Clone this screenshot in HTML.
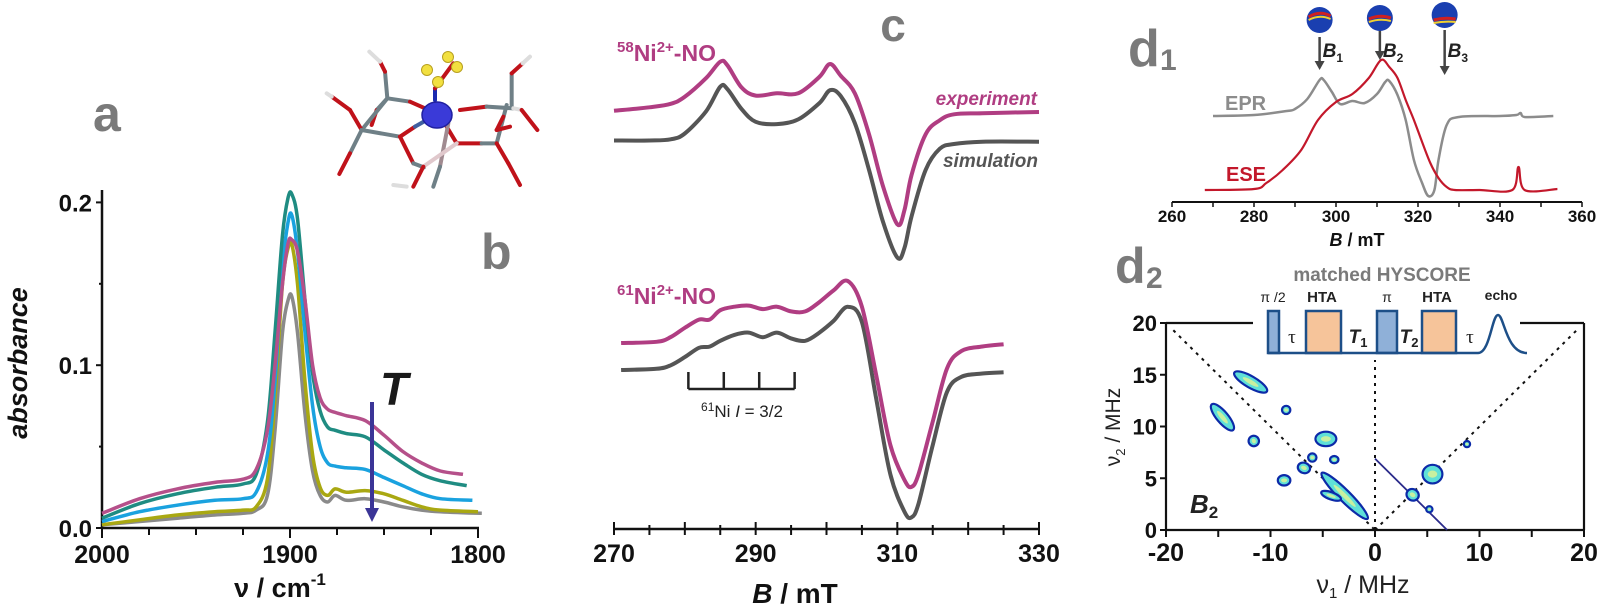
<!DOCTYPE html>
<html><head><meta charset="utf-8"><style>
html,body{margin:0;padding:0;background:#fff;}
svg{display:block;font-family:"Liberation Sans",sans-serif;}
.tk{font-weight:bold;fill:#111;}
</style></head><body>
<svg id="fig" width="1601" height="612" viewBox="0 0 1601 612">
 <g id="gA"></g>
 <g id="gMol"></g>
 <g id="gC"></g>
 <g id="gD1"></g>
 <g id="gD2"></g>
</svg>
<script>
// ---------- Panel a data ----------
const irWavenumbers=[2000,1980,1960,1940,1925,1918,1912,1908,1904,1901,1899,1896,1892,1888,1884,1880,1876,1870,1860,1850,1840,1830,1820,1808];
const irPink =[.009,.018,.024,.028,.030,.036,.06,.10,.15,.175,.177,.17,.14,.10,.08,.073,.071,.069,.066,.057,.047,.040,.035,.033];
const irTeal =[.006,.015,.021,.025,.027,.033,.065,.12,.18,.203,.205,.19,.14,.095,.072,.062,.060,.058,.056,.048,.040,.033,.029,.026];
const irBlue =[.004,.010,.014,.017,.018,.022,.045,.09,.16,.188,.192,.17,.12,.075,.050,.040,.038,.037,.036,.031,.026,.021,.018,.017];
const irOlive=[.002,.005,.008,.010,.011,.013,.03,.08,.15,.172,.174,.15,.09,.045,.025,.020,.024,.022,.023,.021,.017,.013,.011,.010];
const irGray =[.002,.004,.006,.008,.009,.011,.02,.06,.12,.140,.142,.12,.07,.035,.020,.016,.020,.017,.018,.016,.013,.011,.010,.009];
const irXTicks=[2000,1900,1800];
const irYTicks=[0,0.1,0.2];
// ---------- Panel c data ----------
const cTopB=[270,275,278,280,283,285,286,288,290,293,296,299,300.5,302,304,306,308,310,311,312,314,316,318,322,330];
const cTopExp=[1,4,7,13,29,43,40,21,14,16,16,30,41,31,16,-19,-64,-96,-84,-54,-19,-7,-2,-1,0];
const cTopSim=[0,0,1,6,25,46,44,27,16,14,18,32,43,38,15,-25,-70,-100,-92,-65,-25,-7,-3,-1,-1];
const cBotB=[271,276,278,280,282,283.5,285,287,289,291,293,295,297,299,301,303,305,307,309,311,312,313,315,317,319,322,325];
const cBotExp=[0,1,5,13,20,20,28,31,32,29,31,27,27,35,45,53,31,-27,-87,-117,-123,-112,-67,-22,-7,-3,-1];
const cBotSim=[0,1,4,11,19,20,25,30,32,28,32,27,25,32,42,54,41,-24,-89,-121,-126,-114,-64,-19,-6,-3,-2];
const cXTicks=[270,290,310,330];
const cHyperfine=[280.5,285.5,290.5,295.5];
// ---------- Panel d1 data ----------
const eprB=[270,280,288,290,293,296,297,299,301,304,307,310,312,313,315,317,319,321,322.5,324,325,327,330,340,344,345,346,353];
const eprI=[0,1,5,7,17,36,36,24,12,15,13,22,34,35,21,-4,-44,-67,-80,-74,-44,-9,-1,0,1,3,-1,0];
const eseB=[268,280,283,287,291.5,295.6,300,304,308,311,313,315,317,319,321,323,325,327,329,335,343,344.5,346,354];
const eseI=[0,1,7,20,40,70,88,96,112,130,123,112,90,70,48,27,12,3,0,0,0,23,0,1];
const d1XTicks=[260,280,300,320,340,360];
const d1Fields=[296,310.7,326.5];
const d1FieldNames=["1","2","3"];
// ---------- Panel d2 data ----------
const peakNu1=[-11.9,-14.6,-8.5,-11.6,-4.7,-6,-3.9,-6.8,-8.7,-2.9,-4.2,5.5,3.6,5.2,8.8];
const peakNu2=[14.3,10.9,11.6,8.6,8.8,7,6.8,6.0,4.8,3.3,3.3,5.4,3.4,2.0,8.3];
const peakRx=[1.8,1.6,.4,.5,1.0,.4,.4,.6,.6,3.1,1.0,.95,.6,.3,.3];
const peakRy=[.55,.55,.4,.5,.7,.4,.35,.5,.5,.55,.35,.9,.55,.3,.3];
const peakAng=[30,50,0,60,0,0,0,20,0,45,20,0,30,0,0];
const d2XTicks=[-20,-10,0,10,20];
const d2YTicks=[0,5,10,15,20];

const NS="http://www.w3.org/2000/svg";
function mk(parent,tag,attrs,txt){const e=document.createElementNS(NS,tag);for(const k in attrs)e.setAttribute(k,attrs[k]);if(txt!==undefined)e.textContent=txt;parent.appendChild(e);return e;}
function pathD(xs,ys,fx,fy){
  const P=xs.map((x,i)=>[fx(x),fy(ys[i])]);
  let d="M"+P[0][0].toFixed(1)+","+P[0][1].toFixed(1);
  for(let i=0;i<P.length-1;i++){
    const p0=P[Math.max(0,i-1)],p1=P[i],p2=P[i+1],p3=P[Math.min(P.length-1,i+2)];
    const t=1/6;
    let c1x=p1[0]+(p2[0]-p0[0])*t,c1y=p1[1]+(p2[1]-p0[1])*t;
    let c2x=p2[0]-(p3[0]-p1[0])*t,c2y=p2[1]-(p3[1]-p1[1])*t;
    c1x=Math.min(Math.max(c1x,Math.min(p1[0],p2[0])),Math.max(p1[0],p2[0]));
    c2x=Math.min(Math.max(c2x,Math.min(p1[0],p2[0])),Math.max(p1[0],p2[0]));
    d+="C"+c1x.toFixed(1)+","+c1y.toFixed(1)+" "+c2x.toFixed(1)+","+c2y.toFixed(1)+" "+p2[0].toFixed(1)+","+p2[1].toFixed(1);
  }
  return d;
}

// ================= Panel a =================
const gA=document.getElementById("gA");
const ax=v=>102+(2000-v)*1.88;
const ay=v=>528-v*1628;
let e;
e=mk(gA,"line",{x1:102,y1:ay(0),x2:479,y2:ay(0),stroke:"#111","stroke-width":2.5});

e=mk(gA,"line",{x1:102,y1:190,x2:102,y2:ay(0),stroke:"#111","stroke-width":2.5});

for(let w=2000;w>=1800;w-=25){e=mk(gA,"line",{x1:ax(w),y1:528,x2:ax(w),y2:(w%100===0)?538:535,stroke:"#111","stroke-width":2});
}
for(let v=0;v<=0.2001;v+=0.05){const maj=Math.abs(v*10-Math.round(v*10))<1e-6;e=mk(gA,"line",{x1:maj?96:99,y1:ay(v),x2:102,y2:ay(v),stroke:"#111","stroke-width":2});
}
irXTicks.forEach(t=>{e=mk(gA,"text",{x:ax(t),y:563,"text-anchor":"middle","font-size":25,class:"tk"},String(t));
});
irYTicks.forEach(t=>{e=mk(gA,"text",{x:92,y:ay(t)+9,"text-anchor":"end","font-size":24,class:"tk"},t.toFixed(1));
});
const irSeries=[[irGray,"#8a8a8a",1798],[irOlive,"#a9a812",1800],[irBlue,"#1aa2df",1803],[irTeal,"#1f8c82",1806],[irPink,"#b5508a",1808]];
irSeries.forEach(s=>{const xs=irWavenumbers.slice();xs[xs.length-1]=s[2];
e=mk(gA,"path",{d:pathD(xs,s[0],ax,ay),fill:"none",stroke:s[1],"stroke-width":3.5,"stroke-linejoin":"round"});
});
e=mk(gA,"line",{x1:372,y1:402,x2:372,y2:510,stroke:"#3b3597","stroke-width":4});

e=mk(gA,"polygon",{points:"365,508 379,508 372,522",fill:"#3b3597"});

e=mk(gA,"text",{x:380,y:405,"font-size":46,"font-weight":"bold","font-style":"italic",fill:"#1a1a1a"},"T");

e=mk(gA,"text",{x:93,y:131,"font-size":50,"font-weight":"bold",fill:"#7a7a7a"},"a");

e=mk(gA,"text",{x:481,y:269,"font-size":50,"font-weight":"bold",fill:"#7a7a7a"},"b");

e=mk(gA,"text",{x:280,y:597,"text-anchor":"middle","font-size":27,"font-weight":"bold",fill:"#111"});
e.innerHTML='ν / cm<tspan font-size="17" dy="-12">-1</tspan>';

e=mk(gA,"text",{x:0,y:0,"text-anchor":"middle","font-size":27,"font-weight":"bold","font-style":"italic",fill:"#111",transform:"translate(27,363) rotate(-90)"},"absorbance");


// ================= Molecule =================
const gM=document.getElementById("gMol");
const mol=[
["#6f8087",262,205,255,125],["#c0121a",255,125,240,95],["#ddd",240,95,208,65],
["#6f8087",262,205,330,215],["#c0121a",330,215,375,235],
["#6f8087",262,205,230,240],["#c0121a",230,240,215,285],
["#6f8087",262,205,185,300],["#c0121a",185,300,150,240],["#c0121a",150,240,95,200],["#ddd",95,200,80,190],
["#6f8087",185,300,300,320],["#c0121a",300,320,345,290],["#4060a0",345,290,380,270],
["#c0121a",300,320,340,400],["#6f8087",340,400,372,412],
["#6f8087",185,300,150,370],["#c0121a",150,370,118,432],
["#c0121a",440,290,470,340],["#c0121a",470,340,545,340],["#6f8087",545,340,590,340],
["#6f8087",590,340,620,225],["#c0121a",480,240,560,230],["#6f8087",560,230,640,235],
["#6f8087",635,230,635,130],["#c0121a",635,130,668,100],["#ddd",668,100,690,80],
["#c0121a",590,340,625,400],["#c0121a",625,400,660,465],
["#ddd",640,235,665,240],["#c0121a",665,240,712,300],
["#c0121a",610,260,590,300],["#c0121a",590,300,630,290],
["#a08a90",445,280,420,410],["#6f8087",420,410,400,470],["#e0c8cc",370,410,470,340],["#c0121a",370,410,340,470],
["#1a2ab0",405,210,405,175],["#c0121a",405,175,460,100],["#ddd",280,465,320,470]];
mol.forEach(s=>{e=mk(gM,"line",{x1:300+s[1]/3,y1:30+s[2]/3,x2:300+s[3]/3,y2:30+s[4]/3,stroke:s[0],"stroke-width":4,"stroke-linecap":"round"});
});
e=mk(gM,"ellipse",{cx:437,cy:115,rx:15,ry:13,fill:"#3a3ad8",stroke:"#2020a0","stroke-width":1.5});

[[427,70],[438,82],[448,57],[457,67]].forEach(p=>{e=mk(gM,"circle",{cx:p[0],cy:p[1],r:5.5,fill:"#f2e040",stroke:"#b8a020","stroke-width":1});
});

// ================= Panel c =================
const gC=document.getElementById("gC");
const cx=b=>614+(b-270)*(1039-614)/60;
const K=1.17;
e=mk(gC,"line",{x1:614,y1:529,x2:1039,y2:529,stroke:"#111","stroke-width":2.5});

for(let b=270;b<=330;b+=5){const maj=(b%10===0);e=mk(gC,"line",{x1:cx(b),y1:maj?522:525,x2:cx(b),y2:535,stroke:"#111","stroke-width":2});
}
cXTicks.forEach(t=>{e=mk(gC,"text",{x:cx(t),y:562,"text-anchor":"middle","font-size":25,class:"tk"},String(t));
});
const cTraces=[[cTopSim,cTopB,140.5,"#555"],[cTopExp,cTopB,112,"#b03d82"],[cBotSim,cBotB,370,"#555"],[cBotExp,cBotB,343,"#b03d82"]];
cTraces.forEach(t=>{e=mk(gC,"path",{d:pathD(t[1],t[0],cx,v=>t[2]-v*K),fill:"none",stroke:t[3],"stroke-width":4,"stroke-linejoin":"round"});
});
e=mk(gC,"line",{x1:cx(cHyperfine[0]),y1:389,x2:cx(cHyperfine[3]),y2:389,stroke:"#222","stroke-width":2.5});

cHyperfine.forEach(h=>{e=mk(gC,"line",{x1:cx(h),y1:372,x2:cx(h),y2:389,stroke:"#222","stroke-width":2.5});
});
e=mk(gC,"text",{x:742,y:417,"text-anchor":"middle","font-size":17,fill:"#222"});
e.innerHTML='<tspan font-size="12" dy="-6">61</tspan><tspan dy="6">Ni </tspan><tspan font-style="italic">I</tspan><tspan> = 3/2</tspan>';

e=mk(gC,"text",{x:617,y:61,"font-size":23,"font-weight":"bold",fill:"#b03d82"});
e.innerHTML='<tspan font-size="15" dy="-9">58</tspan><tspan dy="9">Ni</tspan><tspan font-size="15" dy="-9">2+</tspan><tspan dy="9">-NO</tspan>';

e=mk(gC,"text",{x:617,y:304,"font-size":23,"font-weight":"bold",fill:"#b03d82"});
e.innerHTML='<tspan font-size="15" dy="-9">61</tspan><tspan dy="9">Ni</tspan><tspan font-size="15" dy="-9">2+</tspan><tspan dy="9">-NO</tspan>';

e=mk(gC,"text",{x:1037,y:105,"text-anchor":"end","font-size":19,"font-weight":"bold","font-style":"italic",fill:"#b03d82"},"experiment");

e=mk(gC,"text",{x:1038,y:167,"text-anchor":"end","font-size":19,"font-weight":"bold","font-style":"italic",fill:"#555"},"simulation");

e=mk(gC,"text",{x:893,y:41,"text-anchor":"middle","font-size":46,"font-weight":"bold",fill:"#7a7a7a"},"c");

e=mk(gC,"text",{x:795,y:603,"text-anchor":"middle","font-size":28,"font-weight":"bold",fill:"#111"});
e.innerHTML='<tspan font-style="italic">B</tspan> / mT';


// ================= Panel d1 =================
const gD1=document.getElementById("gD1");
const dx=b=>1172+(b-260)*4.1;
e=mk(gD1,"line",{x1:1172,y1:202,x2:1582,y2:202,stroke:"#111","stroke-width":2});

for(let b=260;b<=360;b+=10){e=mk(gD1,"line",{x1:dx(b),y1:202,x2:dx(b),y2:207,stroke:"#111","stroke-width":1.5});
}
d1XTicks.forEach(t=>{e=mk(gD1,"text",{x:dx(t),y:222,"text-anchor":"middle","font-size":17,class:"tk"},String(t));
});
e=mk(gD1,"text",{x:1357,y:246,"text-anchor":"middle","font-size":18,"font-weight":"bold",fill:"#111"});
e.innerHTML='<tspan font-style="italic">B</tspan> / mT';

e=mk(gD1,"path",{d:pathD(eprB,eprI,dx,v=>116-v),fill:"none",stroke:"#8c8c8c","stroke-width":2.5,"stroke-linejoin":"round"});

e=mk(gD1,"path",{d:pathD(eseB,eseI,dx,v=>190-v),fill:"none",stroke:"#c3182b","stroke-width":2.2,"stroke-linejoin":"round"});

e=mk(gD1,"text",{x:1225,y:110,"font-size":20,"font-weight":"bold",fill:"#8c8c8c"},"EPR");

e=mk(gD1,"text",{x:1226,y:181,"font-size":20,"font-weight":"bold",fill:"#c3182b"},"ESE");

e=mk(gD1,"text",{x:1128,y:66,"font-size":52,"font-weight":"bold",fill:"#7a7a7a"},"d");

e=mk(gD1,"text",{x:1160,y:70,"font-size":30,"font-weight":"bold",fill:"#7a7a7a"},"1");

const arrowTops=[37,30,30],arrowBots=[70,60,75];
d1Fields.forEach((b,i)=>{const x=dx(b);
e=mk(gD1,"line",{x1:x,y1:arrowTops[i],x2:x,y2:arrowBots[i]-8,stroke:"#444","stroke-width":2.5});

e=mk(gD1,"polygon",{points:(x-5)+","+(arrowBots[i]-9)+" "+(x+5)+","+(arrowBots[i]-9)+" "+x+","+arrowBots[i],fill:"#444"});

e=mk(gD1,"text",{x:x+3,y:57,"font-size":19,"font-weight":"bold","font-style":"italic",fill:"#222"});
e.innerHTML='B<tspan font-size="12" dy="5" font-style="normal">'+d1FieldNames[i]+'</tspan>';

const cyS=[20,18,15][i];
e=mk(gD1,"circle",{cx:x,cy:cyS,r:13,fill:"#1a3fb0"});

e=mk(gD1,"path",{d:"M"+(x-11)+","+(cyS-3+i*4)+" Q"+x+","+(cyS-10+i*6)+" "+(x+11)+","+(cyS-4+i*4),fill:"none",stroke:"#d02020","stroke-width":3});

e=mk(gD1,"path",{d:"M"+(x-11)+","+(cyS+i*4)+" Q"+x+","+(cyS-6+i*6)+" "+(x+11)+","+(cyS-1+i*4),fill:"none",stroke:"#f0d030","stroke-width":2});

});

// ================= Panel d2 =================
const gD2=document.getElementById("gD2");
const hx=v=>1375+v*10.45;
const hy=v=>530-v*10.35;
[[1166,323,1166,530],[1166,530,1584,530],[1584,323,1584,530],[1166,323,1253,323],[1520,323,1584,323]].forEach(s=>{
e=mk(gD2,"line",{x1:s[0],y1:s[1],x2:s[2],y2:s[3],stroke:"#111","stroke-width":2.2});
});
for(let v=-20;v<=20;v+=5){e=mk(gD2,"line",{x1:hx(v),y1:530,x2:hx(v),y2:537,stroke:"#111","stroke-width":2});
}
d2YTicks.forEach(v=>{e=mk(gD2,"line",{x1:1160,y1:hy(v),x2:1166,y2:hy(v),stroke:"#111","stroke-width":2});

e=mk(gD2,"text",{x:1157,y:hy(v)+8,"text-anchor":"end","font-size":22,class:"tk",fill:"#222"},String(v));
});
d2XTicks.forEach(v=>{e=mk(gD2,"text",{x:hx(v),y:561,"text-anchor":"middle","font-size":25,class:"tk",fill:"#222"},String(v));
});
[[-19.3,19.3,0,0],[0,0,19.3,19.3],[0,0,0,17]].forEach(s=>{
e=mk(gD2,"line",{x1:hx(s[0]),y1:hy(s[1]),x2:hx(s[2]),y2:hy(s[3]),stroke:"#111","stroke-width":2,"stroke-dasharray":"3,5"});
});
e=mk(gD2,"line",{x1:hx(0),y1:hy(6.9),x2:hx(6.9),y2:hy(0),stroke:"#2a2a8a","stroke-width":1.8});

peakNu1.forEach((n1,i)=>{const c="rotate("+peakAng[i]+" "+hx(n1)+" "+hy(peakNu2[i])+")";
e=mk(gD2,"ellipse",{cx:hx(n1),cy:hy(peakNu2[i]),rx:peakRx[i]*10.45,ry:peakRy[i]*10.35,fill:"#5fe0d8",stroke:"#0c2aa8","stroke-width":2.2,transform:c});

e=mk(gD2,"ellipse",{cx:hx(n1),cy:hy(peakNu2[i]),rx:peakRx[i]*5,ry:peakRy[i]*4,fill:"#c8f0a0",transform:c});
});
// pulse sequence
e=mk(gD2,"rect",{x:1253,y:300,width:267,height:60,fill:"#fff"});

e=mk(gD2,"rect",{x:1268,y:311,width:11,height:42,fill:"#8fb0d8",stroke:"#1d4f88","stroke-width":2.5});

e=mk(gD2,"rect",{x:1306,y:311,width:35,height:42,fill:"#f6c49a",stroke:"#1d4f88","stroke-width":2.5});

e=mk(gD2,"rect",{x:1377,y:311,width:20,height:42,fill:"#8fb0d8",stroke:"#1d4f88","stroke-width":2.5});

e=mk(gD2,"rect",{x:1422,y:311,width:34,height:42,fill:"#f6c49a",stroke:"#1d4f88","stroke-width":2.5});

e=mk(gD2,"path",{d:"M1268,353 L1478,353 C1490,353 1492,315 1498,315 C1504,315 1506,353 1527,353",fill:"none",stroke:"#1d4f88","stroke-width":2.5});

[["π /2",1273,302],["HTA",1322,302],["π",1387,302],["HTA",1437,302],["echo",1501,300]].forEach(l=>{
e=mk(gD2,"text",{x:l[1],y:l[2],"text-anchor":"middle","font-size":l[0]==="HTA"?15:14,"font-weight":l[0]==="π /2"||l[0]==="π"?"normal":"bold",fill:"#222"},l[0]);
});
e=mk(gD2,"text",{x:1292,y:343,"text-anchor":"middle","font-size":19,fill:"#222","font-family":"Liberation Serif"},"τ");

e=mk(gD2,"text",{x:1470,y:343,"text-anchor":"middle","font-size":19,fill:"#222","font-family":"Liberation Serif"},"τ");

e=mk(gD2,"text",{x:1358,y:343,"text-anchor":"middle","font-size":19,"font-weight":"bold","font-style":"italic",fill:"#222"});
e.innerHTML='T<tspan font-size="13" dy="4" font-style="normal">1</tspan>';

e=mk(gD2,"text",{x:1409,y:343,"text-anchor":"middle","font-size":19,"font-weight":"bold","font-style":"italic",fill:"#222"});
e.innerHTML='T<tspan font-size="13" dy="4" font-style="normal">2</tspan>';

e=mk(gD2,"text",{x:1382,y:281,"text-anchor":"middle","font-size":19,"font-weight":"bold",fill:"#7a7a7a"},"matched HYSCORE");

e=mk(gD2,"text",{x:1115,y:283,"font-size":50,"font-weight":"bold",fill:"#7a7a7a"},"d");

e=mk(gD2,"text",{x:1146,y:288,"font-size":30,"font-weight":"bold",fill:"#7a7a7a"},"2");

e=mk(gD2,"text",{x:1190,y:513,"font-size":26,"font-weight":"bold","font-style":"italic",fill:"#222"});
e.innerHTML='B<tspan font-size="17" dy="5" font-style="normal">2</tspan>';

e=mk(gD2,"text",{x:1363,y:593,"text-anchor":"middle","font-size":25,fill:"#222"});
e.innerHTML='ν<tspan font-size="15" dy="5">1</tspan><tspan dy="-5"> / MHz</tspan>';

e=mk(gD2,"text",{x:0,y:0,"text-anchor":"middle","font-size":21,fill:"#222",transform:"translate(1120,427) rotate(-90)"});
e.innerHTML='ν<tspan font-size="13" dy="5">2</tspan><tspan dy="-5"> / MHz</tspan>';

</script>
</body></html>
